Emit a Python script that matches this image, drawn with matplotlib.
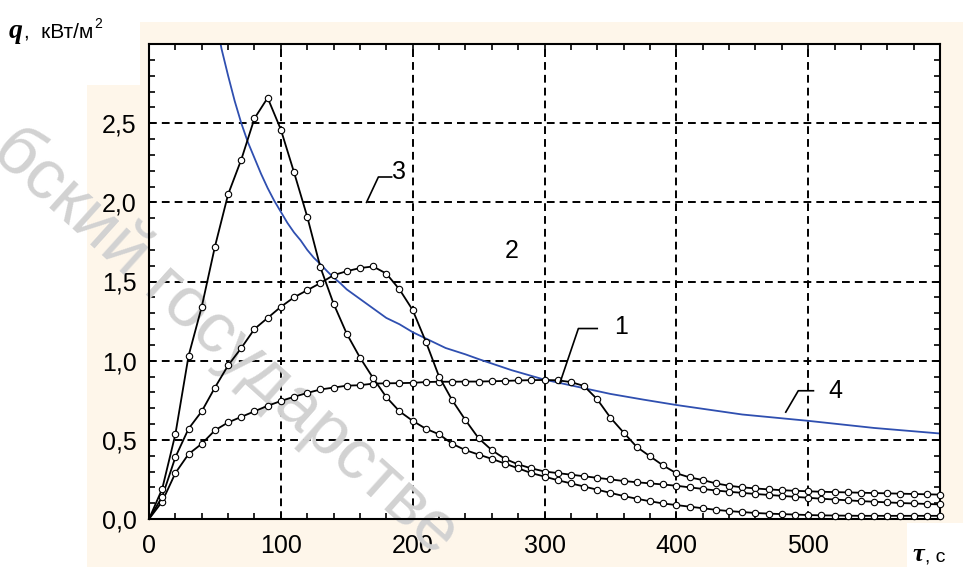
import numpy as np
import matplotlib
matplotlib.use("Agg")
import matplotlib.pyplot as plt
from matplotlib.patches import Rectangle
from matplotlib.ticker import MultipleLocator, FuncFormatter

plt.rcParams['font.family'] = ['Liberation Sans', 'DejaVu Sans']

# time grid of the marked curves, s
tau = np.arange(0, 610, 10)

# curve with the sharp early peak
q_a = [0.0, 0.19, 0.535, 1.03, 1.34, 1.72, 2.05, 2.27, 2.53, 2.66,
       2.46, 2.19, 1.91, 1.59, 1.36, 1.17, 1.02, 0.89, 0.77, 0.68,
       0.62, 0.57, 0.535, 0.475, 0.435, 0.407, 0.38, 0.35, 0.32, 0.29,
       0.268, 0.245, 0.225, 0.205, 0.185, 0.165, 0.145, 0.128, 0.112, 0.098,
       0.088, 0.078, 0.068, 0.058, 0.05, 0.044, 0.038, 0.034, 0.031, 0.028,
       0.025, 0.023, 0.022, 0.021, 0.02, 0.02, 0.02, 0.02, 0.02, 0.02, 0.02]

# curve with the peak near 170 s
q_b = [0.0, 0.14, 0.39, 0.57, 0.68, 0.83, 0.97, 1.08, 1.2, 1.27,
       1.34, 1.4, 1.445, 1.49, 1.54, 1.565, 1.585, 1.595, 1.55, 1.45,
       1.32, 1.12, 0.9, 0.75, 0.625, 0.51, 0.435, 0.38, 0.345, 0.32,
       0.3, 0.29, 0.28, 0.27, 0.26, 0.25, 0.24, 0.232, 0.225, 0.218,
       0.21, 0.2, 0.19, 0.18, 0.172, 0.165, 0.158, 0.152, 0.146, 0.14,
       0.134, 0.128, 0.123, 0.118, 0.113, 0.109, 0.105, 0.101, 0.098, 0.095, 0.092]

# curve with the long plateau (label 1)
q_c = [0.0, 0.11, 0.29, 0.41, 0.475, 0.56, 0.61, 0.645, 0.68, 0.715,
       0.745, 0.772, 0.796, 0.818, 0.83, 0.842, 0.845, 0.855, 0.857, 0.858,
       0.86, 0.865, 0.867, 0.867, 0.868, 0.868, 0.87, 0.872, 0.875, 0.877,
       0.878, 0.876, 0.865, 0.84, 0.756, 0.64, 0.546, 0.455, 0.396, 0.338,
       0.289, 0.263, 0.246, 0.225, 0.21, 0.2, 0.193, 0.187, 0.182, 0.178,
       0.175, 0.172, 0.17, 0.168, 0.166, 0.164, 0.162, 0.16, 0.158, 0.156, 0.154]

# smooth blue curve (label 4)
tau_4 = [50, 55, 60, 65, 70, 75, 80, 85, 90, 95, 100, 105, 110, 115, 120, 125,
         130, 135, 140, 145, 150, 160, 170, 180, 190, 200, 210, 225, 240, 250,
         275, 300, 325, 350, 375, 400, 450, 500, 550, 600]
q_4 = [3.19, 2.97, 2.8, 2.64, 2.5, 2.38, 2.28, 2.18, 2.09, 2.01, 1.94, 1.87,
       1.81, 1.76, 1.7, 1.65, 1.61, 1.566, 1.525, 1.49, 1.45, 1.39, 1.33, 1.27,
       1.23, 1.18, 1.14, 1.08, 1.04, 1.01, 0.94, 0.88, 0.835, 0.79, 0.754,
       0.72, 0.66, 0.62, 0.575, 0.54]

# callouts: label, text position, leader polyline
labels = ['1', '4', '3']
label_pos = [(358, 1.21), (521, 0.81), (190, 2.19)]
leaders = [([311.6, 325.7, 340], [0.857, 1.203, 1.203]),
           ([483, 492.5, 504], [0.675, 0.81, 0.81]),
           ([165, 174, 184], [2.0, 2.16, 2.16])]

W, H = 963, 567
fig = plt.figure(figsize=(W / 100, H / 100), dpi=100)

beige = '#fef6ea'
fig.patches.append(Rectangle((140 / W, 0), 823 / W, 1 - 22 / H, transform=fig.transFigure,
                             facecolor=beige, edgecolor='none', zorder=-10))
fig.patches.append(Rectangle((87 / W, 0), 53 / W, 1 - 85 / H, transform=fig.transFigure,
                             facecolor=beige, edgecolor='none', zorder=-10))
fig.patches.append(Rectangle((907 / W, 0), 56 / W, 44 / H, transform=fig.transFigure,
                             facecolor='white', edgecolor='none', zorder=-9))

ax = fig.add_axes([149 / W, 1 - 519 / H, (940 - 149) / W, (519 - 44) / H])
ax.set_facecolor('white')

ax.set_xlim(0, 600)
ax.set_ylim(0, 3.0)
ax.set_xticks([0, 100, 200, 300, 400, 500])
ax.set_yticks([0, 0.5, 1.0, 1.5, 2.0, 2.5])
ax.xaxis.set_minor_locator(MultipleLocator(20))
ax.yaxis.set_minor_locator(MultipleLocator(0.1))
ax.yaxis.set_major_formatter(FuncFormatter(lambda v, p: f"{v:.1f}".replace('.', ',')))
ax.tick_params(which='both', direction='in', top=True, right=True,
               length=4, width=1.2, labelsize=18)
ax.tick_params(axis='x', pad=11)
ax.tick_params(axis='y', pad=9)
for s in ax.spines.values():
    s.set_linewidth(1.5)

ax.set_axisbelow(True)
ax.grid(True, which='major', color='black', linewidth=1.4, linestyle=(0, (4, 2.6)))

# watermark
ax.text(2 / W, 1 - 140 / H, 'бский государстве', transform=fig.transFigure,
        fontsize=51, color='#d2d2d2', rotation=-42, rotation_mode='anchor',
        ha='left', va='center', zorder=1, clip_on=False)

for q in (q_c, q_b, q_a):
    ax.plot(tau, q, color='black', lw=1.3, zorder=3, clip_on=False,
            marker='o', markersize=4.6, markerfacecolor='white',
            markeredgecolor='black', markeredgewidth=0.8, markevery=slice(1, None))

ax.plot(tau_4, q_4, color='#2f4fb0', lw=1.3, zorder=2.5)

for lab, (tx, ty), (lx, ly) in zip(labels, label_pos, leaders):
    ax.plot(lx, ly, color='black', lw=1.2, zorder=4)
    ax.text(tx, ty, lab, fontsize=18, ha='center', va='center', zorder=4)
ax.text(275, 1.69, '2', fontsize=18, ha='center', va='center', zorder=4)

# axis captions, pieces placed one after another
r = fig.canvas.get_renderer()
t_q = fig.text(9 / W, 1 - 38 / H, 'q', fontsize=20, family=['Liberation Serif'],
               fontweight='bold', fontstyle='italic', ha='left', va='baseline')
x1 = t_q.get_window_extent(r).x1
t_u = fig.text((x1 + 1) / W, 1 - 38 / H, ',  кВт/м', fontsize=15, ha='left', va='baseline')
x2 = t_u.get_window_extent(r).x1
fig.text((x2 + 1) / W, 1 - 28 / H, '2', fontsize=10, ha='left', va='baseline')

t_t = fig.text(912 / W, 1 - 561 / H, 'τ', fontsize=19, family=['Liberation Serif'],
               fontweight='bold', fontstyle='italic', ha='left', va='baseline')
x3 = t_t.get_window_extent(r).x1
fig.text((x3 + 1) / W, 1 - 561 / H, ', с', fontsize=14, ha='left', va='baseline')

fig.savefig('out.png', dpi=100)
